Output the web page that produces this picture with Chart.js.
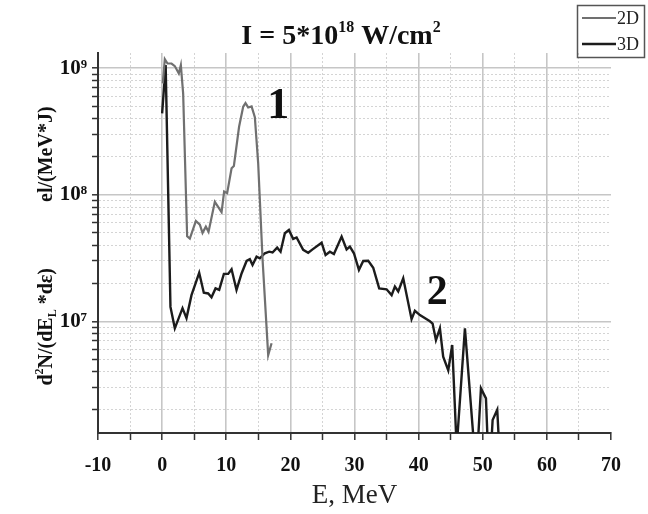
<!DOCTYPE html>
<html>
<head>
<meta charset="utf-8">
<title>Electron spectrum</title>
<script src="https://cdn.jsdelivr.net/npm/chart.js@4.4.0/dist/chart.umd.min.js"></script>
<style>
  html, body { margin: 0; padding: 0; background: #fff; }
  #wrap { width: 648px; height: 514px; }
</style>
</head>
<body>
<div id="wrap"><canvas id="spectrum" width="648" height="514"></canvas></div>
<script>
// 2D simulation, curve "1"
const energy2D = [0.1, 0.42, 0.84, 1.47, 1.98, 2.6, 2.92, 3.28, 3.9, 4.32, 5.26, 5.88, 6.3, 6.82, 7.24,
  8.22, 9.27, 9.67, 10.14, 10.83, 11.19, 12.0, 12.64, 13.0, 13.42, 13.95, 14.46, 14.98, 15.66, 16.54, 17.07];
const counts2D = [7.6e8, 1.18e9, 1.09e9, 1.09e9, 1.04e9, 9.1e8, 1.06e9, 6.3e8, 4.7e7, 4.5e7, 6.2e7, 5.8e7, 5.0e7, 5.6e7, 5.1e7,
  8.8e7, 7.3e7, 1.06e8, 1.03e8, 1.62e8, 1.69e8, 3.45e8, 4.97e8, 5.3e8, 4.9e8, 5.0e8, 4.1e8, 1.77e8, 3.1e7, 5.4e6, 6.7e6];

// 3D simulation, curve "2"
const energy3D = [0.0, 0.55, 1.3, 1.98, 3.18, 3.8, 4.58, 5.78, 6.5, 7.18, 7.7, 8.33, 8.9, 9.63, 10.3, 10.83,
  11.6, 12.39, 13.17, 13.68, 14.1, 14.73, 15.24, 16.02, 16.7, 17.22, 17.94, 18.47, 19.14, 19.77, 20.44, 20.97,
  22.0, 22.78, 23.46, 24.87, 25.49, 26.16, 26.79, 27.99, 28.77, 29.28, 29.91, 30.69, 31.36, 32.14, 32.92, 33.85,
  35.0, 35.79, 36.3, 36.82, 37.6, 38.9, 39.42, 40.2, 41.76, 42.18, 42.7, 43.32, 43.83, 44.62, 45.24, 45.93,
  47.22, 48.67, 49.2, 49.72, 50.5, 50.8, 51.3, 51.54, 52.26, 52.57];
const counts3D = [4.4e8, 1.06e9, 1.3e7, 8.8e6, 1.27e7, 1.06e7, 1.61e7, 2.42e7, 1.68e7, 1.66e7, 1.55e7, 1.82e7, 1.77e7, 2.37e7, 2.37e7, 2.58e7,
  1.77e7, 2.39e7, 3.0e7, 3.1e7, 2.79e7, 3.24e7, 3.15e7, 3.45e7, 3.55e7, 3.5e7, 3.82e7, 3.55e7, 4.97e7, 5.27e7, 4.48e7, 4.6e7,
  3.67e7, 3.48e7, 3.7e7, 4.18e7, 3.34e7, 3.55e7, 3.4e7, 4.67e7, 3.7e7, 3.89e7, 3.45e7, 2.55e7, 3.0e7, 3.01e7, 2.65e7, 1.82e7,
  1.79e7, 1.61e7, 1.88e7, 1.72e7, 2.19e7, 1.04e7, 1.21e7, 1.12e7, 1.0e7, 9.6e6, 7.1e6, 8.8e6, 5.25e6, 4.1e6, 6.5e6, 1.0e6,
  8.8e6, 1.0e6, 1.0e6, 2.95e6, 2.46e6, 1.0e6, 1.0e6, 1.66e6, 2.0e6, 1.0e6];

const seriesLabels = ['2D', '3D'];
const curveNumbers = ['1', '2'];

// tick marks
const xLabelEvery = 10;
const yMajorTicks = [1e7, 1e8, 1e9];
const yMajorLabels = ['10\u2077', '10\u2078', '10\u2079'];
const yMinorSteps = [2, 3, 4, 5, 6, 7, 8, 9];
const yMinorDecades = [1e6, 1e7, 1e8];

document.addEventListener('DOMContentLoaded', function() {
    const canvas = document.getElementById('spectrum');
    const serif = '"Liberation Serif", "Times New Roman", serif';

    const yTickValues = [];
    yMinorDecades.forEach(d => yMinorSteps.forEach(s => yTickValues.push(s * d)));
    yMajorTicks.forEach(v => yTickValues.push(v));
    yTickValues.sort((a, b) => a - b);

    function isMajorY(v) {
        return yMajorTicks.some(m => Math.abs(v / m - 1) < 1e-6);
    }

    function toPoints(xs, ys) {
        return xs.map((x, i) => ({ x: x, y: ys[i] }));
    }

    // draws a run of text pieces, some raised or lowered; "gap" adds blank space
    function drawRich(ctx, parts, x, y, align) {
        const widthOf = p => {
            if (p.gap) return p.gap;
            ctx.font = p.font;
            return ctx.measureText(p.text).width;
        };
        let total = 0;
        parts.forEach(p => { total += widthOf(p); });
        let cx = align === 'center' ? x - total / 2 : x;
        ctx.textAlign = 'left';
        ctx.textBaseline = 'alphabetic';
        parts.forEach(p => {
            const w = widthOf(p);
            if (!p.gap) ctx.fillText(p.text, cx, y + (p.dy || 0));
            cx += w;
        });
    }

    const decorations = {
        id: 'decorations',
        afterDraw(chart) {
            const ctx = chart.ctx;
            const xs = chart.scales.x;
            const ys = chart.scales.y;
            ctx.save();
            ctx.fillStyle = '#111';

            // title
            drawRich(ctx, [
                { text: 'I = 5*10', font: 'bold 28px ' + serif },
                { text: '18', font: 'bold 16px ' + serif, dy: -12 },
                { text: ' W/cm', font: 'bold 28px ' + serif },
                { text: '2', font: 'bold 16px ' + serif, dy: -12 }
            ], 341, 44, 'center');

            // y axis title, rotated
            ctx.save();
            ctx.translate(52, 246);
            ctx.rotate(-Math.PI / 2);
            const f = 'bold 20px ' + serif;
            const fs = 'bold 12px ' + serif;
            drawRich(ctx, [
                { text: 'd', font: f },
                { text: '2', font: fs, dy: -9 },
                { text: 'N/(dE', font: f },
                { text: 'L', font: fs, dy: 4 },
                { text: ' *d\u03b5)', font: f },
                { gap: 66 },
                { text: 'el/(MeV*J)', font: f }
            ], 0, 0, 'center');
            ctx.restore();

            // curve numbers
            ctx.font = 'bold 44px ' + serif;
            ctx.textAlign = 'center';
            ctx.textBaseline = 'middle';
            ctx.fillText(curveNumbers[0], xs.getPixelForValue(18.1), ys.getPixelForValue(5.0e8));
            ctx.font = 'bold 42px ' + serif;
            ctx.fillText(curveNumbers[1], xs.getPixelForValue(42.9), ys.getPixelForValue(1.68e7));

            // legend box
            ctx.strokeStyle = '#555';
            ctx.lineWidth = 1.5;
            ctx.strokeRect(577.5, 5.5, 67, 52);
            chart.data.datasets.forEach((ds, i) => {
                const ly = 18 + i * 26;
                ctx.strokeStyle = ds.borderColor;
                ctx.lineWidth = ds.borderWidth;
                ctx.beginPath();
                ctx.moveTo(582, ly);
                ctx.lineTo(616, ly);
                ctx.stroke();
                ctx.fillStyle = '#222';
                ctx.font = '18px ' + serif;
                ctx.textAlign = 'left';
                ctx.textBaseline = 'middle';
                ctx.fillText(ds.label, 617, ly + 1);
            });
            ctx.restore();
        }
    };

    new Chart(canvas, {
        type: 'line',
        data: {
            datasets: [{
                label: seriesLabels[0],
                data: toPoints(energy2D, counts2D),
                borderColor: '#707070',
                borderWidth: 2.2,
                pointRadius: 0,
                tension: 0,
                clip: 0
            }, {
                label: seriesLabels[1],
                data: toPoints(energy3D, counts3D),
                borderColor: '#1c1c1c',
                borderWidth: 2.4,
                pointRadius: 0,
                tension: 0,
                clip: 0
            }]
        },
        options: {
            responsive: false,
            animation: false,
            devicePixelRatio: 1,
            layout: { padding: { left: 0, right: 37, top: 53, bottom: 0 } },
            plugins: {
                legend: { display: false },
                tooltip: { enabled: false },
                title: { display: false }
            },
            scales: {
                x: {
                    type: 'linear',
                    min: -10,
                    max: 70,
                    afterFit: scale => { scale.height = 81; },
                    ticks: {
                        stepSize: 5,
                        autoSkip: false,
                        maxRotation: 0,
                        padding: 14,
                        color: '#111',
                        font: { family: serif, size: 20, weight: 'bold' },
                        callback: v => (v % xLabelEvery === 0 ? String(v) : '')
                    },
                    grid: {
                        color: ctx => {
                            if (!ctx.tick || ctx.tick.value >= 70) return 'rgba(0,0,0,0)';
                            return ctx.tick.value % xLabelEvery === 0 ? '#c6c6c6' : '#d4d4d4';
                        },
                        lineWidth: ctx => (ctx.tick && ctx.tick.value % xLabelEvery === 0 ? 1.6 : 1),
                        tickColor: '#333',
                        tickWidth: 1.5,
                        tickLength: 7,
                        tickBorderDash: []
                    },
                    border: {
                        color: '#333',
                        width: 2,
                        dash: ctx => (ctx.tick && ctx.tick.value % xLabelEvery !== 0 ? [2, 2] : [])
                    },
                    title: {
                        display: true,
                        text: 'E, MeV',
                        color: '#222',
                        font: { family: serif, size: 27, weight: 'normal' },
                        padding: { top: 0, bottom: 2 }
                    }
                },
                y: {
                    type: 'logarithmic',
                    min: 1.31e6,
                    max: 1.32e9,
                    afterFit: scale => { scale.width = 98; },
                    afterBuildTicks: scale => {
                        scale.ticks = yTickValues.map(v => ({ value: v, major: isMajorY(v) }));
                    },
                    ticks: {
                        autoSkip: false,
                        padding: 5,
                        color: '#111',
                        font: { family: serif, size: 21, weight: 'bold' },
                        callback: v => {
                            const i = yMajorTicks.findIndex(m => Math.abs(v / m - 1) < 1e-6);
                            return i >= 0 ? yMajorLabels[i] : '';
                        }
                    },
                    grid: {
                        color: ctx => (ctx.tick && isMajorY(ctx.tick.value) ? '#c6c6c6' : '#d4d4d4'),
                        lineWidth: ctx => (ctx.tick && isMajorY(ctx.tick.value) ? 1.6 : 1),
                        tickColor: '#333',
                        tickWidth: 1.5,
                        tickLength: 6,
                        tickBorderDash: []
                    },
                    border: {
                        color: '#333',
                        width: 2,
                        dash: ctx => (ctx.tick && !isMajorY(ctx.tick.value) ? [2, 2] : [])
                    }
                }
            }
        },
        plugins: [decorations]
    });
});
</script>
</body>
</html>
